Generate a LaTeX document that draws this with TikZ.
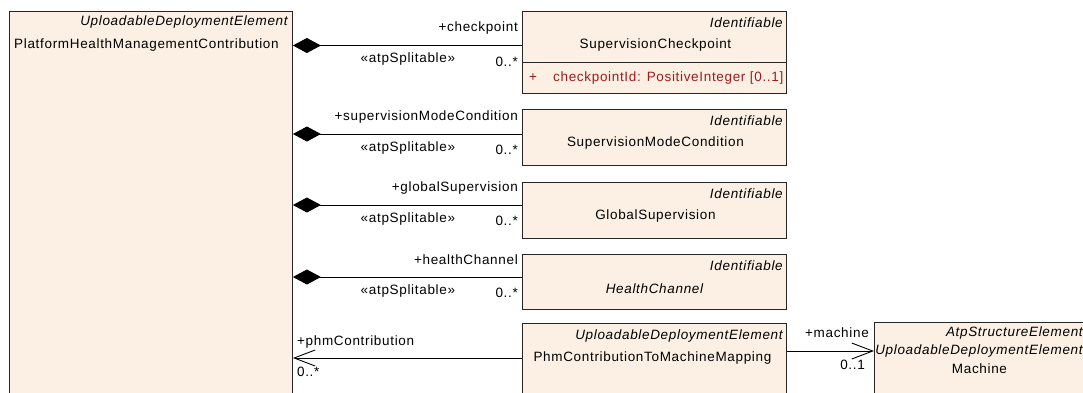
\documentclass[tikz,border=0pt]{standalone}
\usepackage{fontspec}
\setmainfont{Liberation Sans}[LetterSpace=5]
\usetikzlibrary{arrows.meta,positioning,calc}
\definecolor{classFill}{RGB}{251,240,227}
\definecolor{attrRed}{RGB}{160,28,28}
\tikzset{
  umlclass/.style={draw=black!85,fill=classFill,line width=0.9pt,anchor=north west,inner sep=0pt},
  txt/.style={font=\fontsize{13.5}{16}\selectfont,inner sep=0pt},
  stereo/.style={txt,font=\fontsize{13.5}{16}\selectfont\itshape,anchor=east},
  clsname/.style={txt},
  role/.style={txt,anchor=east},
  attr/.style={txt,text=attrRed},
  comp/.style={line width=0.9pt,-{Diamond[length=28pt,width=15pt]}},
  nav/.style={line width=0.9pt,-{Straight Barb[length=21pt,width=16pt,line width=0.9pt]}}
}
\begin{document}
\begin{tikzpicture}[x=1pt,y=-1pt]
\useasboundingbox (0,0) rectangle (1083,392);
% classes
\node[umlclass,minimum width=283pt,minimum height=400pt] (phm) at (9,11) {};
\node[umlclass,minimum width=264pt,minimum height=82pt] (checkpoint) at (522,11) {};
\node[umlclass,minimum width=264pt,minimum height=56pt] (modeCond) at (522,109) {};
\node[umlclass,minimum width=264pt,minimum height=56pt] (globalSup) at (522,182) {};
\node[umlclass,minimum width=264pt,minimum height=55pt] (healthCh) at (522,254) {};
\node[umlclass,minimum width=264pt,minimum height=90pt] (mapping) at (522,323) {};
\node[umlclass,minimum width=218pt,minimum height=90pt] (machine) at (874,322) {};
\draw[line width=0.9pt,draw=black!85] ([yshift=-51pt]checkpoint.north west) -- ([yshift=-51pt]checkpoint.north east);
% texts in the classes
\node[stereo] (phmStereo) at ($(phm.north east)+(-5,11)$) {UploadableDeploymentElement};
\node[clsname,anchor=west] (phmName) at ($(phm.north west)+(5,34)$) {PlatformHealthManagementContribution};
\foreach \cls/\name/\dy in {checkpoint/SupervisionCheckpoint/34,modeCond/SupervisionModeCondition/34,globalSup/GlobalSupervision/34}{
  \node[stereo] (\cls Stereo) at ($(\cls.north east)+(-4,12)$) {Identifiable};
  \node[clsname] (\cls Name) at ($(\cls.north)+(1,\dy)$) {\name};
}
\node[stereo] (healthChStereo) at ($(healthCh.north east)+(-4,12)$) {Identifiable};
\node[clsname,font=\fontsize{13.5}{16}\selectfont\itshape] (healthChName) at ($(healthCh.north)+(0,35)$) {HealthChannel};
\node[attr] (cpPlus) at ($(checkpoint.north west)+(11,67)$) {+};
\node[attr,anchor=west] (cpAttr) at ($(checkpoint.north west)+(31,67)$) {checkpointId: PositiveInteger [0..1]};
\node[stereo] (mappingStereo) at ($(mapping.north east)+(-4,13)$) {UploadableDeploymentElement};
\node[clsname] (mappingName) at ($(mapping.north)+(-2,35)$) {PhmContributionToMachineMapping};
\node[stereo] (machineStereoA) at ($(machine.north east)+(-10,11)$) {AtpStructureElement};
\node[stereo] (machineStereoB) at ($(machine.north east)+(-10,29)$) {UploadableDeploymentElement};
\node[clsname] (machineName) at ($(machine.north)+(-4,47)$) {Machine};
% compositions
\foreach \cls/\role/\off in {checkpoint/checkpoint/34.5,modeCond/supervisionModeCondition/25,globalSup/globalSupervision/23,healthCh/healthChannel/23}{
  \coordinate (\cls End) at ($(\cls.north west)+(0,\off)$);
  \draw[comp] (\cls End) -- (\cls End -| phm.east);
  \node[role] (\cls Role) at ($(\cls End)+(-4,-17)$) {+\role};
  \node[txt] (\cls Split) at ($(\cls End -| phm.east)+(115,14)$) {«atpSplitable»};
  \node[role] (\cls Mult) at ($(\cls End)+(-4,16)$) {0..*};
}
% associations of the mapping
\coordinate (mapPhm) at ($(mapping.north west)+(0,35)$);
\draw[nav] (mapPhm) -- (mapPhm -| phm.east);
\node[txt,anchor=west] (phmRole) at ($(mapPhm -| phm.east)+(4,-16)$) {+phmContribution};
\node[txt,anchor=west] (phmMult) at ($(mapPhm -| phm.east)+(4,14)$) {0..*};
\coordinate (mapMachine) at ($(mapping.north east)+(0,28)$);
\draw[nav] (mapMachine) -- (mapMachine -| machine.west);
\node[role] (machineRole) at ($(mapMachine -| machine.west)+(-5,-18)$) {+machine};
\node[role] (machineMult) at ($(mapMachine -| machine.west)+(-9,14)$) {0..1};
\end{tikzpicture}
\end{document}
